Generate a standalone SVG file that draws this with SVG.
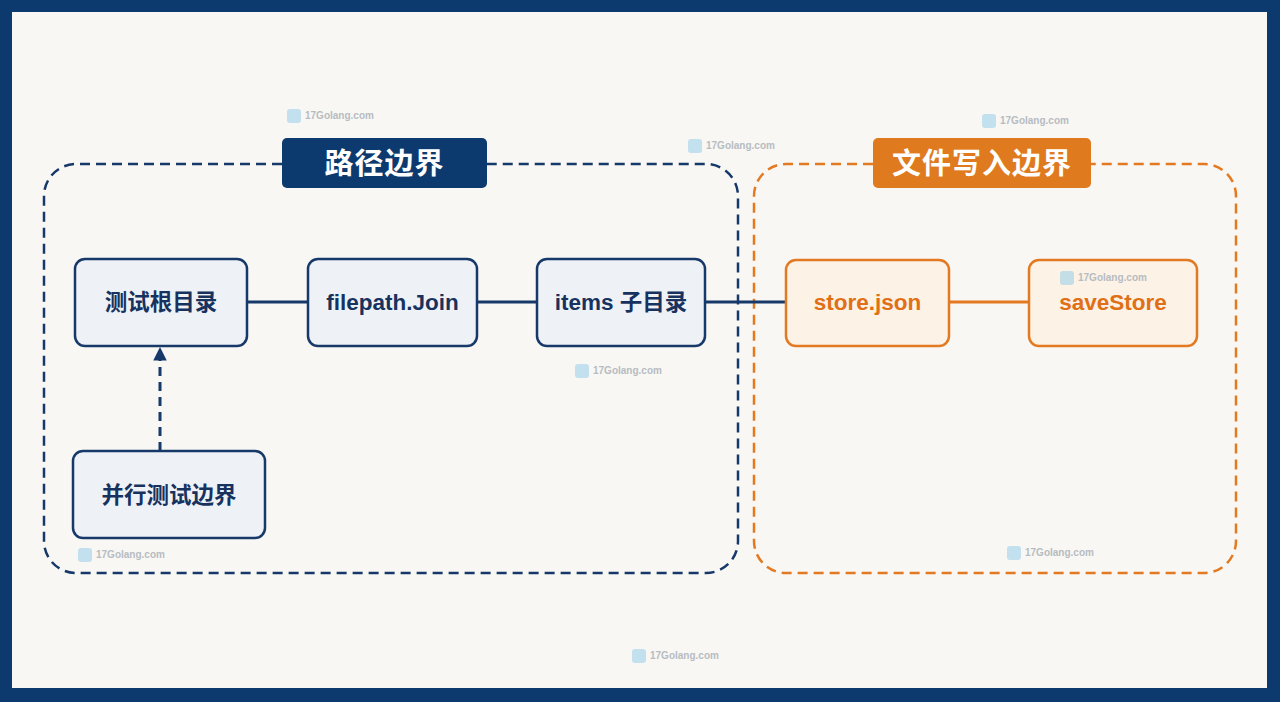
<svg xmlns="http://www.w3.org/2000/svg" width="1280" height="702" viewBox="0 0 1280 702">
<style>
.frame{fill:#0c3a6e}
.bg{fill:#f8f7f3}
.grpN{fill:none;stroke:#17396a;stroke-width:2.5;stroke-dasharray:10 6}
.grpO{fill:none;stroke:#e37a22;stroke-width:2.5;stroke-dasharray:10 6}
.nodeN rect{fill:#eef2f7;stroke:#17396a;stroke-width:2.5}
.nodeO rect{fill:#fcf2e6;stroke:#e37a22;stroke-width:2.5}
.nodeN text{fill:#17325e;font:bold 22.5px "Liberation Sans","Noto Sans CJK SC",sans-serif;text-anchor:middle}
.nodeO text{fill:#e06f15;font:bold 22.5px "Liberation Sans","Noto Sans CJK SC",sans-serif;text-anchor:middle}
.title text{fill:#ffffff;font:bold 29px "Noto Sans CJK SC",sans-serif;text-anchor:middle;letter-spacing:1px}
.lnN{stroke:#17396a;stroke-width:3;fill:none}
.lnO{stroke:#e37a22;stroke-width:3;fill:none}
.wm text{fill:#b7bcc2;font:bold 10px "Liberation Sans",sans-serif}
.wm rect{fill:#9fd0ea;opacity:0.6}
</style>
<defs>
<marker id="arrN" viewBox="0 0 10 10" refX="10" refY="5" markerWidth="4.5" markerHeight="4.5" orient="auto" markerUnits="strokeWidth">
<path d="M0,0 L10,5 L0,10 z" fill="#17396a"/>
</marker>
</defs>
<rect class="frame" x="0" y="0" width="1280" height="702"/>
<rect class="bg" x="12" y="12" width="1255" height="676"/>

<g id="group-path">
<path class="grpN" d="M282,164 H76 A32,32 0 0 0 44,196 V541 A32,32 0 0 0 76,573 H706 A32,32 0 0 0 738,541 V196 A32,32 0 0 0 706,164 H487"/>
</g>
<g id="group-write">
<path class="grpO" d="M873,164 H786 A32,32 0 0 0 754,196 V541 A32,32 0 0 0 786,573 H1204 A32,32 0 0 0 1236,541 V196 A32,32 0 0 0 1204,164 H1091"/>
</g>

<g id="connectors">
<line class="lnN" x1="247" y1="302" x2="308" y2="302"/>
<line class="lnN" x1="477" y1="302" x2="537" y2="302"/>
<line class="lnN" x1="705" y1="302" x2="786" y2="302"/>
<line class="lnO" x1="949" y1="302" x2="1029" y2="302"/>
<line class="lnN" x1="160" y1="451" x2="160" y2="347" stroke-dasharray="9 6" marker-end="url(#arrN)"/>
</g>

<g id="title-path" class="title">
<rect x="282" y="138" width="205" height="50" rx="5" fill="#0c3a6e"/>
<text x="384.5" y="174">路径边界</text>
</g>
<g id="title-write" class="title">
<rect x="873" y="138" width="218" height="50" rx="5" fill="#e07a1f"/>
<text x="982" y="174">文件写入边界</text>
</g>

<g id="node-root" class="nodeN">
<rect x="75" y="259" width="172" height="87" rx="10"/>
<text x="161" y="310">测试根目录</text>
</g>
<g id="node-join" class="nodeN">
<rect x="308" y="259" width="169" height="87" rx="10"/>
<text x="392.5" y="310">filepath.Join</text>
</g>
<g id="node-items" class="nodeN">
<rect x="537" y="259" width="168" height="87" rx="10"/>
<text x="621" y="310">items 子目录</text>
</g>
<g id="node-store" class="nodeO">
<rect x="786" y="260" width="163" height="86" rx="10"/>
<text x="867.5" y="310">store.json</text>
</g>
<g id="node-save" class="nodeO">
<rect x="1029" y="260" width="168" height="86" rx="10"/>
<text x="1113" y="310">saveStore</text>
</g>
<g id="node-parallel" class="nodeN">
<rect x="73" y="451" width="192" height="87" rx="10"/>
<text x="169" y="503">并行测试边界</text>
</g>

<g id="watermarks" class="wm">
<rect x="287" y="109" width="14" height="14" rx="3"/><text x="305" y="119">17Golang.com</text>
<rect x="688" y="139" width="14" height="14" rx="3"/><text x="706" y="149">17Golang.com</text>
<rect x="982" y="114" width="14" height="14" rx="3"/><text x="1000" y="124">17Golang.com</text>
<rect x="1060" y="271" width="14" height="14" rx="3"/><text x="1078" y="281">17Golang.com</text>
<rect x="575" y="364" width="14" height="14" rx="3"/><text x="593" y="374">17Golang.com</text>
<rect x="78" y="548" width="14" height="14" rx="3"/><text x="96" y="558">17Golang.com</text>
<rect x="1007" y="546" width="14" height="14" rx="3"/><text x="1025" y="556">17Golang.com</text>
<rect x="632" y="649" width="14" height="14" rx="3"/><text x="650" y="659">17Golang.com</text>
</g>
</svg>
